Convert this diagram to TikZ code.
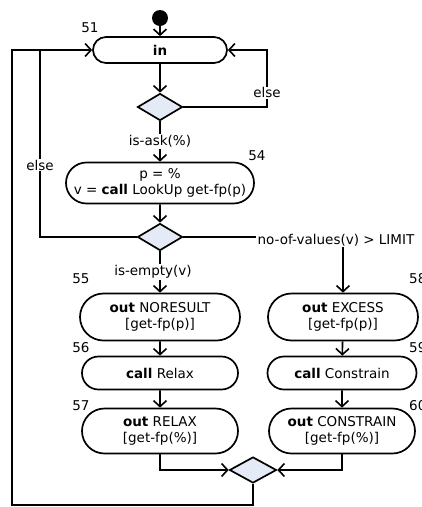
\documentclass[tikz,border=0pt]{standalone}
\usepackage{fontspec}
\setmainfont{DejaVu Sans}
\usetikzlibrary{arrows.meta,shapes.geometric,shapes.misc}
\definecolor{decfill}{RGB}{228,235,246}
\tikzset{
  act/.style={draw, line width=1.7pt, rounded rectangle, align=center, inner sep=0pt},
  dec/.style={draw, line width=1.7pt, diamond, fill=decfill, minimum width=45pt, minimum height=27pt, inner sep=0pt},
  flow/.style={line width=1.6pt, -{Straight Barb[length=6pt,width=13pt,line width=1.6pt]}},
  plain/.style={line width=1.6pt},
  guard/.style={fill=white, inner sep=1pt},
  num/.style={inner sep=0pt}
}

\begin{document}
\begin{tikzpicture}[x=1pt, y=-1pt, font=\fontsize{13.5}{16}\selectfont]
			%%%%% START %%%%%
			\useasboundingbox (0,0) rectangle (422,507);
			
			\node[fill, circle, minimum size=16pt, inner sep=0pt] (start) at (160,18) {};
			\node[act, minimum width=134pt, minimum height=26pt] (in) at (160,50) {\textbf{in}};
			\node[dec] (d1) at (160,107) {};
			\node[act, minimum width=188pt, minimum height=41pt] (a54) at (160,183) {p = \%\\v = \textbf{call} LookUp get-fp(p)};
			\node[dec] (d2) at (160,237) {};
			
			\node[act, minimum width=160pt, minimum height=47pt] (a55) at (160,317) {\textbf{out} NORESULT\\{}[get-fp(p)]};
			\node[act, minimum width=156pt, minimum height=33pt] (a56) at (160,373) {\textbf{call} Relax};
			\node[act, minimum width=156pt, minimum height=45pt] (a57) at (160,431) {\textbf{out} RELAX\\{}[get-fp(\%)]};
			
			\node[act, minimum width=150pt, minimum height=47pt] (a58) at (343,317) {\textbf{out} EXCESS\\{}[get-fp(p)]};
			\node[act, minimum width=149pt, minimum height=33pt] (a59) at (342,373) {\textbf{call} Constrain};
			\node[act, minimum width=146pt, minimum height=45pt] (a60) at (342,431) {\textbf{out} CONSTRAIN\\{}[get-fp(\%)]};
			
			\node[dec, minimum width=47pt, minimum height=26pt] (mg) at (253,470) {};
			
			\node[num] (n51) at (90,28) {51};
			\node[num] (n54) at (257,156) {54};
			\node[num] (n55) at (81,279) {55};
			\node[num] (n56) at (81,348) {56};
			\node[num] (n57) at (81,406) {57};
			\node[num, anchor=west] (n58) at (409,279) {58};
			\node[num, anchor=west] (n59) at (409,348) {59};
			\node[num, anchor=west] (n60) at (409,406) {60};
			
			\coordinate (r1) at (267,107);
			\coordinate (r2) at (267,50);
			\coordinate (l1) at (40,237);
			\coordinate (l2) at (40,50);
			\coordinate (b1) at (253,505);
			\coordinate (b2) at (12,505);
			\coordinate (b3) at (12,50);
			
			\draw[flow] (start) -- (in);
			\draw[flow] (in) -- (d1);
			\draw[flow] (d1.east) -- (r1) -- node[guard, pos=0.25] {else} (r2) -- (in.east);
			\draw[flow] (d1) -- node[guard] {is-ask(\%)} (a54);
			\draw[flow] (a54) -- (d2);
			\draw[plain] (d2.west) -- (l1) -- node[guard, pos=0.385] {else} (l2);
			\node[guard] (lim) at (336,240) {no-of-values(v) > LIMIT};
			\draw[plain] (d2.east) -- (d2.east -| lim.west);
			\draw[flow] (lim.south -| a58.north) -- (a58.north);
			\draw[flow] (d2) -- node[guard, xshift=-7pt] {is-empty(v)} (a55);
			
			\draw[flow] (a55) -- (a56);
			\draw[flow] (a56) -- (a57);
			\draw[flow] (a58) -- (a59);
			\draw[flow] (a59) -- (a60);
			
			\draw[flow] (a57.south) |- (mg.west);
			\draw[flow] (a60.south) |- (mg.east);
			\draw[flow] (mg.south) -- (b1) -- (b2) -- (b3) -- (in.west);
			
			%%%%% END %%%%%
\end{tikzpicture}
\end{document}
